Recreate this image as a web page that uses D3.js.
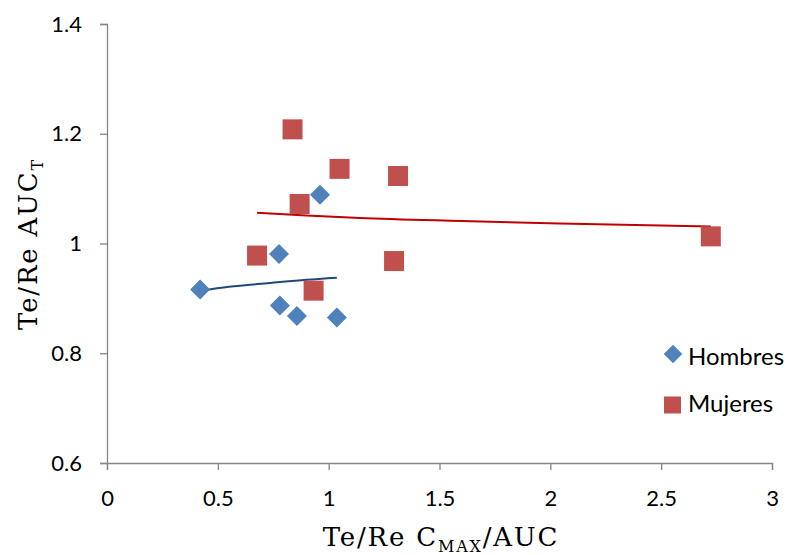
<!DOCTYPE html>
<html>
<head>
<meta charset="utf-8">
<script src="https://cdn.jsdelivr.net/npm/d3@7"></script>
<style>
  html, body { margin: 0; padding: 0; background: #fff; }
  svg { display: block; }
</style>
</head>
<body>
<svg id="chart" width="787" height="555"></svg>
<script>
// ---- data ----
const hombresX = [0.42, 0.776, 0.78, 0.857, 0.961, 1.037];
const hombresY = [0.916, 0.981, 0.887, 0.868, 1.089, 0.865];
const mujeresX = [0.837, 1.049, 1.313, 0.869, 0.677, 1.295, 0.932, 2.724];
const mujeresY = [1.208, 1.136, 1.123, 1.072, 0.978, 0.968, 0.914, 1.013];
// trend lines (logarithmic in the original)
const trendHX = [0.42, 0.55, 0.735, 0.9, 1.037];
const trendHY = [0.9135, 0.921, 0.928, 0.934, 0.9378];
const trendMX = [0.677, 0.9, 1.141, 1.6, 2.043, 2.724];
const trendMY = [1.056, 1.051, 1.0465, 1.041, 1.0364, 1.031];
const xTicks = [0, 0.5, 1, 1.5, 2, 2.5, 3];
const yTicks = [0.6, 0.8, 1, 1.2, 1.4];
const seriesNames = ["Hombres", "Mujeres"];

const svg = d3.select("#chart");
const x = d3.scaleLinear().domain([0, 3]).range([107, 772]);
const y = d3.scaleLinear().domain([0.6, 1.4]).range([463, 24]);
const axisColor = "#868686";
const tickFont = "Lato, 'Open Sans', sans-serif";
const serif = "'DejaVu Serif', 'Liberation Serif', serif";

// axes
const xAxis = svg.append("g").attr("transform", `translate(0,${y(0.6)})`)
  .call(d3.axisBottom(x).tickValues(xTicks).tickSizeOuter(0).tickSize(7).tickPadding(20)
    .tickFormat(d => String(d)));
const yAxis = svg.append("g").attr("transform", `translate(${x(0)},0)`)
  .call(d3.axisLeft(y).tickValues(yTicks).tickSizeOuter(0).tickSize(7).tickPadding(18)
    .tickFormat(d => String(d)));
[xAxis, yAxis].forEach(g => {
  g.select(".domain").attr("stroke", axisColor).attr("stroke-width", 1.3);
  g.selectAll(".tick line").attr("stroke", axisColor).attr("stroke-width", 1.3);
  g.selectAll(".tick text").attr("fill", "#000").style("font-family", tickFont).style("font-size", "22px");
});

// trend lines
const line = d3.line().x(d => x(d[0])).y(d => y(d[1])).curve(d3.curveMonotoneX);
svg.append("path").datum(d3.zip(trendHX, trendHY)).attr("d", line)
  .attr("fill", "none").attr("stroke", "#1F497D").attr("stroke-width", 2);
svg.append("path").datum(d3.zip(trendMX, trendMY)).attr("d", line)
  .attr("fill", "none").attr("stroke", "#C00000").attr("stroke-width", 2);

// markers
const diamond = d3.symbol().type(d3.symbolSquare).size(200);
svg.append("g").selectAll("path").data(d3.zip(hombresX, hombresY)).join("path")
  .attr("d", diamond)
  .attr("transform", d => `translate(${x(d[0])},${y(d[1])}) rotate(45)`)
  .attr("fill", "#4F81BD");
svg.append("g").selectAll("rect").data(d3.zip(mujeresX, mujeresY)).join("rect")
  .attr("x", d => x(d[0]) - 10).attr("y", d => y(d[1]) - 10)
  .attr("width", 20).attr("height", 20)
  .attr("fill", "#C0504D");

// legend
const leg = svg.append("g");
leg.append("path").attr("d", d3.symbol().type(d3.symbolSquare).size(170))
  .attr("transform", "translate(673,354) rotate(45)").attr("fill", "#4F81BD");
leg.append("rect").attr("x", 664).attr("y", 396.5).attr("width", 17).attr("height", 17).attr("fill", "#C0504D");
leg.append("text").attr("x", 688).attr("y", 365).text(seriesNames[0])
  .style("font-family", tickFont).style("font-size", "24px");
leg.append("text").attr("x", 688).attr("y", 412).text(seriesNames[1])
  .style("font-family", tickFont).style("font-size", "24px");

// axis titles
const xt = svg.append("text").attr("x", 441).attr("y", 546).attr("text-anchor", "middle")
  .style("font-family", serif).style("font-size", "26px").style("letter-spacing", "1.8px");
xt.append("tspan").text("Te/Re C");
xt.append("tspan").text("MAX").attr("dy", 6).style("font-size", "16px");
xt.append("tspan").text("/AUC").attr("dy", -6);

const yt = svg.append("text").attr("transform", "translate(37,244) rotate(-90)").attr("text-anchor", "middle")
  .style("font-family", serif).style("font-size", "26px").style("letter-spacing", "1.8px");
yt.append("tspan").text("Te/Re AUC");
yt.append("tspan").text("T").attr("dy", 6).style("font-size", "16px");
</script>
</body>
</html>
